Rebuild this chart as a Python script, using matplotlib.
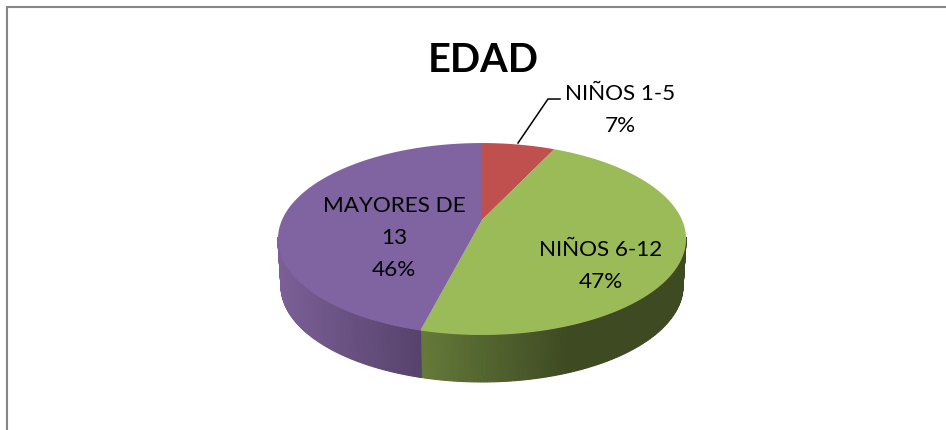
import numpy as np
import matplotlib
matplotlib.use("Agg")
import matplotlib.pyplot as plt

plt.rcParams['font.family'] = ['Lato', 'DejaVu Sans']

labels = ['NIÑOS 1-5', 'NIÑOS 6-12', 'MAYORES DE\n13']
values = [7, 47, 46]
top_colors = ['#c0504d', '#9bbb59', '#8064a2']
side_left = {1: '#657a3a', 2: '#7b5f96'}
side_right = {1: '#3d4a22', 2: '#56436c'}

# perspective of the pie top
cx, cy = 482, 220
a, b, k = 200, 92.2, 0.198
depth = 47


def rim(theta, drop=0, shrink=1.0):
    u, v = np.sin(theta), np.cos(theta)
    d = 1 + k * v
    x = cx + a * shrink * u / d
    y = cy - b * v / d
    return x, y + drop


def mix(c1, c2, t):
    c1, c2 = np.array(matplotlib.colors.to_rgb(c1)), np.array(matplotlib.colors.to_rgb(c2))
    return tuple(c1 + (c2 - c1) * t)


fig = plt.figure(figsize=(9.46, 4.30), dpi=100)
ax = fig.add_axes([0, 0, 1, 1])
ax.set_xlim(0, 946)
ax.set_ylim(430, 0)
ax.axis('off')

# only top and left of the chart border are in the crop
ax.plot([7, 7, 946], [430, 7, 7], color='#868686', lw=1.5, solid_joinstyle='miter')

edges = np.cumsum([0] + values) / sum(values) * 2 * np.pi

# side wall, only the part facing the viewer
for i in [1, 2]:
    start, end = edges[i], edges[i + 1]
    start = max(start, np.pi / 2 + 0.18)
    end = min(end, 3 * np.pi / 2 - 0.18)
    th = np.linspace(start, end, 121)
    x, y = rim(th)
    x2, y2 = rim(th, depth, 0.985)
    for j in range(len(th) - 1):
        if i == 1:
            # green goes dark early and then stays dark
            t = np.clip((x[j] - x.min()) / 150, 0, 1)
        else:
            t = (x[j] - x.min()) / (x.max() - x.min())
        ax.fill([x[j], x[j + 1], x2[j + 1], x2[j]], [y[j], y[j + 1], y2[j + 1], y2[j]],
                color=mix(side_left[i], side_right[i], t), lw=0.8)

# top of the pie
for i in range(3):
    th = np.linspace(edges[i], edges[i + 1], 200)
    x, y = rim(th)
    ax.fill(np.r_[cx, x], np.r_[cy, y], color=top_colors[i], lw=0)

ax.text(483, 61, 'EDAD', fontsize=28.6, fontweight='bold', ha='center', va='center', color='black')
ax.text(620, 110, labels[0] + '\n' + str(values[0]) + '%', fontsize=16.2, ha='center', va='center',
        linespacing=1.78, color='black')
ax.text(601, 266, labels[1] + '\n' + str(values[1]) + '%', fontsize=16.2, ha='center', va='center',
        linespacing=1.78, color='black')
ax.text(394, 238, labels[2] + '\n' + str(values[2]) + '%', fontsize=16.2, ha='center', va='center',
        linespacing=1.78, color='black')
ax.plot([518, 548, 560], [143, 99, 99], color='black', lw=1.1)

fig.savefig("out.png", dpi=100)
